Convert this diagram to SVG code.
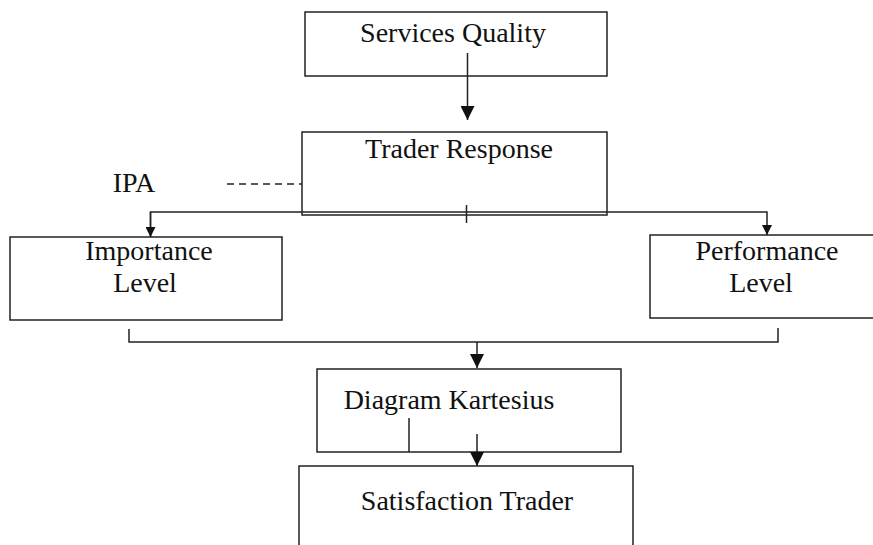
<svg xmlns="http://www.w3.org/2000/svg" width="873" height="545" viewBox="0 0 873 545">
<defs>
<style>
.box{fill:#fff;stroke:#222;stroke-width:1.5}
.t{font-family:"Liberation Serif","Times New Roman",serif;font-size:28px;fill:#111;text-anchor:middle}
.ln{fill:none;stroke:#222;stroke-width:1.5}
</style>
<marker id="ah" viewBox="0 0 10 10" refX="10" refY="5" markerWidth="10" markerHeight="10" markerUnits="userSpaceOnUse" orient="auto">
<path d="M0,0 L10,5 L0,10 Z" fill="#111"/>
</marker>
<marker id="ahb" viewBox="0 0 10 10" refX="10" refY="5" markerWidth="14" markerHeight="14" markerUnits="userSpaceOnUse" orient="auto">
<path d="M0,0 L10,5 L0,10 Z" fill="#111"/>
</marker>
</defs>
<g id="services-quality">
<rect class="box" x="305" y="12" width="302" height="64"/>
<text class="t" x="453" y="42">Services Quality</text>
</g>
<g id="trader-response">
<rect class="box" x="302" y="132" width="305" height="83"/>
<text class="t" x="459" y="158">Trader Response</text>
</g>
<g id="ipa">
<text class="t" x="134" y="192">IPA</text>
</g>
<g id="importance-level">
<rect class="box" x="10" y="237" width="272" height="83"/>
<text class="t" x="149" y="260">Importance</text>
<text class="t" x="145" y="292">Level</text>
</g>
<g id="performance-level">
<rect class="box" x="650" y="235" width="230" height="83"/>
<text class="t" x="767" y="260">Performance</text>
<text class="t" x="761" y="292">Level</text>
</g>
<g id="diagram-kartesius">
<rect class="box" x="317" y="369" width="304" height="83"/>
<text class="t" x="449" y="409">Diagram Kartesius</text>
</g>
<g id="satisfaction-trader">
<rect class="box" x="299" y="466" width="334" height="90"/>
<text class="t" x="467" y="510">Satisfaction Trader</text>
</g>
<g id="connectors">
<line class="ln" x1="467.5" y1="53" x2="467.5" y2="120" marker-end="url(#ahb)"/>
<line class="ln" x1="227" y1="184" x2="302" y2="184" stroke-dasharray="7,5" stroke-width="2"/>
<polyline class="ln" points="150.5,237 150.5,212 767,212 767,235" marker-end="url(#ah)"/>
<polyline class="ln" points="150.5,212 150.5,237" marker-end="url(#ah)"/>
<line class="ln" x1="466.5" y1="205" x2="466.5" y2="223"/>
<polyline class="ln" points="129,329 129,342 778,342 778,328"/>
<line class="ln" x1="477" y1="342" x2="477" y2="368" marker-end="url(#ahb)"/>
<line class="ln" x1="409" y1="418" x2="409" y2="452" stroke-width="2.5"/>
<line class="ln" x1="477" y1="434" x2="477" y2="466" marker-end="url(#ahb)"/>
</g>
</svg>
